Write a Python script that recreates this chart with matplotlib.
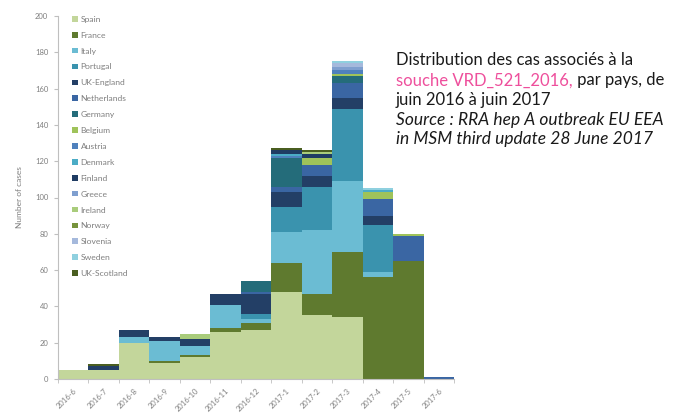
import numpy as np
import matplotlib
matplotlib.use("Agg")
import matplotlib.pyplot as plt

months = ["2016-6", "2016-7", "2016-8", "2016-9", "2016-10", "2016-11", "2016-12",
          "2017-1", "2017-2", "2017-3", "2017-4", "2017-5", "2017-6"]

# cases per country and month, bottom of the stack first
spain       = [5, 5, 20, 9, 12, 26, 27, 48, 35, 34, 0, 0, 0]
france      = [0, 0, 0, 1, 1, 2, 4, 16, 12, 36, 56, 65, 0]
italy       = [0, 0, 3, 11, 5, 13, 2, 17, 35, 39, 3, 0, 0]
portugal    = [0, 0, 0, 0, 0, 0, 3, 14, 24, 40, 26, 0, 0]
uk_england  = [0, 2, 4, 2, 4, 6, 11, 8, 6, 6, 5, 0, 0]
netherlands = [0, 0, 0, 0, 0, 0, 1, 3, 6, 8, 9, 14, 1]
germany     = [0, 0, 0, 0, 0, 0, 6, 16, 0, 4, 0, 0, 0]
belgium     = [0, 0, 0, 0, 0, 0, 0, 0, 4, 1, 4, 1, 0]
austria     = [0, 0, 0, 0, 0, 0, 0, 1, 0, 2, 0, 0, 0]
denmark     = [0, 0, 0, 0, 0, 0, 0, 1, 0, 0, 1, 0, 0]
finland     = [0, 0, 0, 0, 0, 0, 0, 2, 2, 0, 0, 0, 0]
greece      = [0, 0, 0, 0, 0, 0, 0, 0, 0, 2, 0, 0, 0]
ireland     = [0, 0, 0, 0, 3, 0, 0, 0, 1, 0, 0, 0, 0]
norway      = [0, 0, 0, 0, 0, 0, 0, 0, 0, 0, 0, 0, 0]
slovenia    = [0, 0, 0, 0, 0, 0, 0, 0, 0, 2, 0, 0, 0]
sweden      = [0, 0, 0, 0, 0, 0, 0, 0, 0, 1, 1, 0, 0]
uk_scotland = [0, 1, 0, 0, 0, 0, 0, 1, 1, 0, 0, 0, 0]

countries = ["Spain", "France", "Italy", "Portugal", "UK-England", "Netherlands",
             "Germany", "Belgium", "Austria", "Denmark", "Finland", "Greece",
             "Ireland", "Norway", "Slovenia", "Sweden", "UK-Scotland"]
series = [spain, france, italy, portugal, uk_england, netherlands, germany,
          belgium, austria, denmark, finland, greece, ireland, norway,
          slovenia, sweden, uk_scotland]
colors = ["#c3d69b", "#5f7a2f", "#6bbcd3", "#3a93ae", "#233f66", "#3a66a3",
          "#246c7a", "#9fc35a", "#4f81bd", "#4bacc6", "#1f3c63", "#7f9fcf",
          "#a9cc7b", "#77933c", "#a5b9dc", "#8fd0df", "#4a5e20"]

plt.rcParams['font.family'] = ['Lato', 'DejaVu Sans']
grey = "#7f7f7f"

fig = plt.figure(figsize=(6.78, 4.18), dpi=100)
ax = fig.add_axes([58/678, 1-379/418, (454-58)/678, (379-16)/418])

x = np.arange(len(months))
bottom = np.zeros(len(months))
for name, vals, c in zip(countries, series, colors):
    ax.bar(x, vals, width=1.0, bottom=bottom, color=c, label=name, linewidth=0)
    bottom += np.array(vals)

ax.set_xlim(-0.5, len(months)-0.5)
ax.set_ylim(0, 200)
ax.set_yticks(range(0, 201, 20))
ax.set_xticks(x)
ax.set_xticklabels(months, rotation=45, ha="right", rotation_mode="anchor",
                   fontsize=5.5, color=grey)
ax.set_xticks(np.arange(-0.5, len(months)), minor=True)
ax.tick_params(axis="x", which="major", length=0, pad=6)
ax.tick_params(axis="x", which="minor", length=3, color="#bfbfbf")
ax.tick_params(axis="y", length=3, color="#bfbfbf", labelsize=5.5, labelcolor=grey, pad=4)
for s in ["top", "right"]:
    ax.spines[s].set_visible(False)
for s in ["left", "bottom"]:
    ax.spines[s].set_color("#bfbfbf")
    ax.spines[s].set_linewidth(0.8)
ax.set_ylabel("Number of cases", fontsize=6, color=grey, labelpad=9)

leg = ax.legend(loc="upper left", bbox_to_anchor=(0.027, 1.01), frameon=False,
                fontsize=6.1, handlelength=0.65, handleheight=0.65,
                handletextpad=0.35, labelspacing=1.05, borderaxespad=0)
for t in leg.get_texts():
    t.set_color(grey)

# annotation text on the right
tx = 396/678
fs = 12
fs_it = 12.5
txt_col = "#1a1a1a"
fig.text(tx, 1-65/418, "Distribution des cas associés à la", fontsize=fs,
         color=txt_col, va="baseline")
pink = fig.text(tx, 1-85.5/418, "souche VRD_521_2016,", fontsize=fs,
                color="#ee4f9c", va="baseline")
fig.canvas.draw()
bb = pink.get_window_extent()
fig.text(bb.x1/fig.bbox.width, 1-85.5/418, " par pays, de", fontsize=fs,
         color=txt_col, va="baseline")
fig.text(tx, 1-105/418, "juin 2016 à juin 2017", fontsize=fs, color=txt_col,
         va="baseline")
fig.text(tx, 1-124.5/418, "Source : RRA hep A outbreak EU EEA", fontsize=fs_it,
         color=txt_col, va="baseline", style="italic")
fig.text(tx, 1-144/418, "in MSM third update 28 June 2017", fontsize=fs_it,
         color=txt_col, va="baseline", style="italic")

fig.savefig("out.png", dpi=100)
